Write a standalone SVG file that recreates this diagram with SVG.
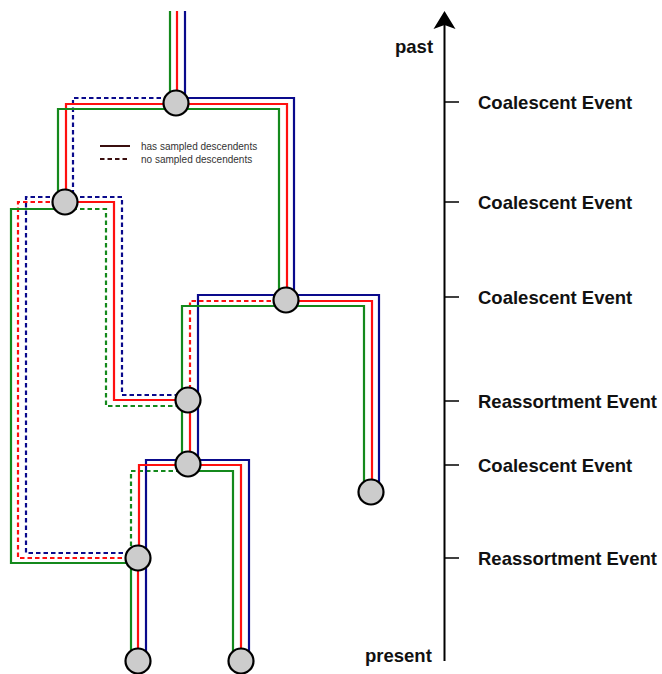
<svg xmlns="http://www.w3.org/2000/svg" width="662" height="674" viewBox="0 0 662 674">
<style>
.g{stroke:#14891c;}
.r{stroke:#ff1010;}
.b{stroke:#0a0a8c;}
path{fill:none;stroke-width:2.2;stroke-linejoin:miter;}
.d{stroke-dasharray:4.5,3;}
.node{fill:#cccccc;stroke:#000;stroke-width:2.2;}
.lbl{font-family:"Liberation Sans",Arial,sans-serif;font-weight:bold;font-size:18.5px;fill:#111;}
.leg{font-family:"Liberation Sans",Arial,sans-serif;font-size:10px;fill:#333;}
.head{fill:#000;stroke:none;}
</style>
<rect width="662" height="674" fill="#fff"/>
<g id="connectors">
<path class="g" d="M170,11 V103"/>
<path class="r" d="M177,11 V103"/>
<path class="b" d="M185,11 V103"/>
<path class="b d" d="M176,98 H73 V202"/>
<path class="r" d="M176,104 H66 V202"/>
<path class="g" d="M176,109 H58 V202"/>
<path class="b" d="M176,98 H294 V300"/>
<path class="r" d="M176,104 H287 V300"/>
<path class="g" d="M176,109 H279 V300"/>
<path class="b d" d="M65,197 H26 V553 H138"/>
<path class="r d" d="M65,202 H18 V558 H138"/>
<path class="g" d="M65,209 H11 V563 H138"/>
<path class="b d" d="M65,197 H122 V395 H188"/>
<path class="g d" d="M65,209 H106 V406 H188"/>
<path class="r" d="M65,202 H114 V400 H188"/>
<path class="r d" d="M286,301 H190 V400"/>
<path class="b" d="M286,295 H198 V400"/>
<path class="g" d="M286,306 H182 V400"/>
<path class="b" d="M286,295 H379 V492"/>
<path class="r" d="M286,301 H372 V492"/>
<path class="g" d="M286,306 H364 V492"/>
<path class="g" d="M182,400 V464"/>
<path class="r" d="M190,400 V464"/>
<path class="b" d="M198,400 V464"/>
<path class="g d" d="M188,471 H131 V558"/>
<path class="b" d="M188,460 H146 V558"/>
<path class="r" d="M188,465 H139 V558"/>
<path class="b" d="M188,460 H249 V661"/>
<path class="r" d="M188,465 H241 V661"/>
<path class="g" d="M188,471 H233 V661"/>
<path class="g" d="M131,558 V661"/>
<path class="r" d="M138,558 V661"/>
<path class="b" d="M146,558 V661"/>
</g>
<g id="n1"><circle class="node" cx="176" cy="103" r="12.5"/></g>
<g id="n2"><circle class="node" cx="65" cy="202" r="12.5"/></g>
<g id="n3"><circle class="node" cx="286" cy="300" r="12.5"/></g>
<g id="n4"><circle class="node" cx="188" cy="400" r="12.5"/></g>
<g id="n5"><circle class="node" cx="188" cy="464" r="12.5"/></g>
<g id="n6"><circle class="node" cx="371" cy="492" r="12.5"/></g>
<g id="n7"><circle class="node" cx="138" cy="558" r="12.5"/></g>
<g id="n8"><circle class="node" cx="138" cy="661" r="12.5"/></g>
<g id="n9"><circle class="node" cx="241" cy="661" r="12.5"/></g>
<g id="legend">
<path d="M100,146 H130" style="stroke:#3a0f0f;stroke-width:2"/>
<path d="M100,159 H130" style="stroke:#3a0f0f;stroke-width:2;stroke-dasharray:4.5,3"/>
<text class="leg" x="141" y="149.5">has sampled descendents</text>
<text class="leg" x="141" y="162.5">no sampled descendents</text>
</g>
<g id="axis">
<path d="M444.5,661 V24" style="stroke:#000;stroke-width:2"/>
<path class="head" d="M444.5,11 L455.5,29 L444.5,25 L433.5,29 Z"/>
<path d="M444.5,102 H459 M444.5,202 H459 M444.5,297 H459 M444.5,401 H459 M444.5,465 H459 M444.5,558 H459" style="stroke:#000;stroke-width:1.6"/>
<text class="lbl" x="395" y="53">past</text>
<text class="lbl" x="365" y="662">present</text>
<text class="lbl" x="478" y="109">Coalescent Event</text>
<text class="lbl" x="478" y="209">Coalescent Event</text>
<text class="lbl" x="478" y="304">Coalescent Event</text>
<text class="lbl" x="478" y="408">Reassortment Event</text>
<text class="lbl" x="478" y="472">Coalescent Event</text>
<text class="lbl" x="478" y="565">Reassortment Event</text>
</g>
</svg>
